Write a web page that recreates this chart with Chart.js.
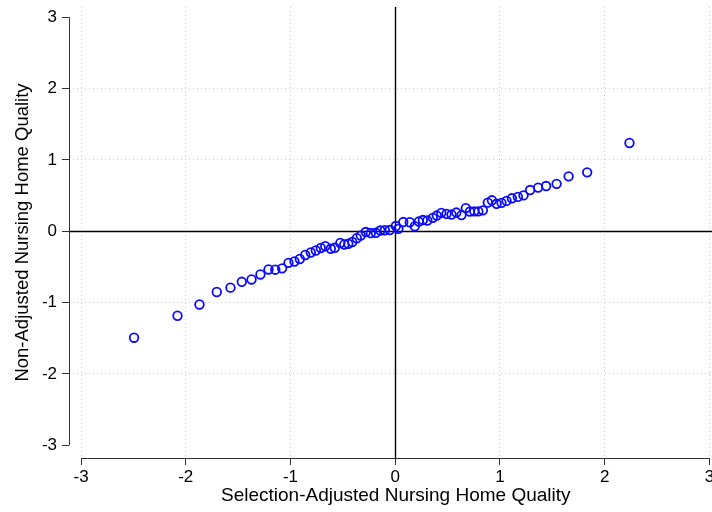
<!DOCTYPE html>
<html>
<head>
<meta charset="utf-8">
<script src="https://cdn.jsdelivr.net/npm/chart.js@4/dist/chart.umd.min.js"></script>
<style>
  html, body { margin: 0; padding: 0; background: #ffffff; }
  #wrap { width: 712px; height: 512px; }
</style>
</head>
<body>
<div id="wrap"><canvas id="c" width="712" height="512"></canvas></div>
<script>
// Selection-adjusted quality (x) vs non-adjusted quality (y)
const selectionAdjusted = [
  -2.494, -2.079, -1.869, -1.704, -1.573, -1.465, -1.372, -1.287, -1.210, -1.145,
  -1.080, -1.019, -0.962, -0.911, -0.859, -0.806, -0.758, -0.711, -0.668, -0.615,
  -0.577, -0.524, -0.486, -0.448, -0.410, -0.367, -0.329, -0.281, -0.233, -0.185,
  -0.142, -0.099, -0.052, 0.006, 0.030, 0.077, 0.139, 0.187, 0.225, 0.264,
  0.307, 0.359, 0.397, 0.440, 0.490, 0.538, 0.584, 0.633, 0.674, 0.713,
  0.755, 0.794, 0.837, 0.884, 0.923, 0.968, 1.015, 1.063, 1.114, 1.171,
  1.225, 1.288, 1.365, 1.441, 1.541, 1.656, 1.833, 2.237
];
const nonAdjusted = [
  -1.493, -1.185, -1.027, -0.852, -0.791, -0.709, -0.676, -0.606, -0.536, -0.539,
  -0.520, -0.443, -0.424, -0.389, -0.333, -0.298, -0.270, -0.235, -0.210, -0.246,
  -0.232, -0.165, -0.186, -0.176, -0.151, -0.098, -0.060, -0.011, -0.025, -0.022,
  0.010, 0.014, 0.017, 0.073, 0.034, 0.129, 0.126, 0.070, 0.136, 0.157,
  0.150, 0.188, 0.220, 0.258, 0.244, 0.234, 0.262, 0.227, 0.325, 0.276,
  0.279, 0.279, 0.293, 0.402, 0.434, 0.385, 0.398, 0.426, 0.462, 0.482,
  0.503, 0.578, 0.612, 0.634, 0.665, 0.770, 0.826, 1.238
];
const xTickValues = [-3, -2, -1, 0, 1, 2, 3];
const yTickValues = [-3, -2, -1, 0, 1, 2, 3];
const xTitle = '\u00A0\u00A0Selection-Adjusted Nursing Home Quality';
const yTitle = 'Non-Adjusted Nursing Home Quality';

const points = selectionAdjusted.map((x, i) => ({ x: x, y: nonAdjusted[i] }));

const FONT = "'Liberation Sans', Arial, Helvetica, sans-serif";
const GRID = '#cfcfcf';

const axesPlugin = {
  id: 'stataAxes',
  beforeDatasetsDraw(chart) {
    const ctx = chart.ctx;
    const xs = chart.scales.x, ys = chart.scales.y;
    const area = chart.chartArea;
    ctx.save();
    ctx.strokeStyle = '#000000';
    ctx.lineWidth = 1.4;
    // reference lines at zero
    const x0 = Math.round(xs.getPixelForValue(0)) + 0.5;
    const y0 = Math.round(ys.getPixelForValue(0)) + 0.5;
    ctx.beginPath();
    ctx.moveTo(x0, area.top);
    ctx.lineTo(x0, area.bottom);
    ctx.moveTo(area.left, y0);
    ctx.lineTo(area.right, y0);
    ctx.stroke();
    // axis lines spanning tick range
    ctx.lineWidth = 1;
    ctx.strokeStyle = '#333333';
    const yb = Math.round(area.bottom) + 0.5;
    const xl = Math.round(area.left) + 0.5;
    ctx.beginPath();
    ctx.moveTo(xs.getPixelForValue(xTickValues[0]), yb);
    ctx.lineTo(xs.getPixelForValue(xTickValues[xTickValues.length - 1]), yb);
    ctx.moveTo(xl, ys.getPixelForValue(yTickValues[yTickValues.length - 1]));
    ctx.lineTo(xl, ys.getPixelForValue(yTickValues[0]));
    ctx.stroke();
    ctx.restore();
  }
};

new Chart(document.getElementById('c'), {
  type: 'scatter',
  data: {
    datasets: [{
      data: points,
      pointStyle: 'circle',
      pointRadius: 4.3,
      pointHoverRadius: 4.3,
      borderWidth: 1.8,
      borderColor: '#0a0aff',
      backgroundColor: 'rgba(0,0,0,0)'
    }]
  },
  options: {
    responsive: false,
    animation: false,
    devicePixelRatio: 1,
    layout: { autoPadding: false, padding: { top: 7, right: 0, bottom: 0, left: 0 } },
    plugins: { legend: { display: false }, tooltip: { enabled: false } },
    scales: {
      x: {
        type: 'linear',
        min: -3.115,
        max: 3.025,
        afterBuildTicks(s) { s.ticks = xTickValues.map(v => ({ value: v })); },
        afterFit(s) { s.height = 54; s.paddingLeft = 0; s.paddingRight = 0; },
        border: { display: false, dash: [1, 3] },
        grid: {
          color: GRID,
          lineWidth: 1,
          tickColor: '#333333',
          tickLength: 7,
          tickBorderDash: [],
          drawTicks: true
        },
        ticks: {
          color: '#000000',
          font: { family: FONT, size: 17 },
          padding: 2,
          maxRotation: 0,
          callback: v => String(v)
        },
        title: {
          display: true,
          text: xTitle,
          color: '#000000',
          font: { family: FONT, size: 19 },
          padding: { top: 0, bottom: 5 }
        }
      },
      y: {
        type: 'linear',
        min: -3.18,
        max: 3.145,
        afterBuildTicks(s) { s.ticks = yTickValues.map(v => ({ value: v })); },
        afterFit(s) { s.width = 69; s.paddingTop = 0; s.paddingBottom = 0; },
        border: { display: false, dash: [1, 3] },
        grid: {
          color: ctx => (ctx.tick && Math.abs(ctx.tick.value) === 3) ? 'rgba(0,0,0,0)' : GRID,
          lineWidth: 1,
          tickColor: '#333333',
          tickLength: 7,
          tickBorderDash: [],
          drawTicks: true
        },
        ticks: {
          color: '#000000',
          font: { family: FONT, size: 17 },
          padding: 5,
          callback: v => String(v)
        },
        title: {
          display: true,
          text: yTitle,
          color: '#000000',
          font: { family: FONT, size: 18.5 },
          padding: { top: 12, bottom: 0 }
        }
      }
    }
  },
  plugins: [axesPlugin]
});
</script>
</body>
</html>
